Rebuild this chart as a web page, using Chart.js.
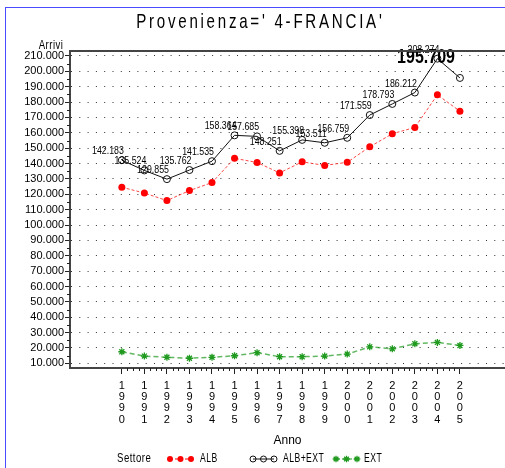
<!DOCTYPE html>
<html>
<head>
<meta charset="utf-8">
<script src="https://cdn.jsdelivr.net/npm/chart.js@4.4.1/dist/chart.umd.min.js"></script>
<style>
  html, body { margin: 0; padding: 0; background: #fff; }
  #wrap { position: relative; width: 505px; height: 468px; overflow: hidden; }
  #frame { position: absolute; left: 5px; top: 7px; right: -2px; bottom: -2px;
           border-left: 1px solid #4a4aff; border-top: 1px solid #4a4aff; pointer-events: none; }
</style>
</head>
<body>
<div id="wrap">
  <canvas id="chart" width="505" height="468"></canvas>
  <div id="frame"></div>
</div>
<script>
// chart data
const titleText = "Provenienza=' 4-FRANCIA'";
const yTitle = 'Arrivi';
const xTitle = 'Anno';
const legendTitle = 'Settore';
const years = [1990, 1991, 1992, 1993, 1994, 1995, 1996, 1997, 1998, 1999, 2000, 2001, 2002, 2003, 2004, 2005];
const alb = [124600, 120800, 115900, 122400, 127600, 143400, 140700, 133900, 141100, 138800, 140800, 150900, 159400, 163500, 184700, 174100];
const albExt = [142183, 135524, 129855, 135762, 141535, 158364, 157685, 148251, 155398, 153511, 156759, 171559, 178793, 186212, 208274, 195709];
const ext = [17500, 14700, 13900, 13300, 13900, 14900, 16900, 14300, 14300, 14700, 16000, 20700, 19400, 22700, 23600, 21600];
const seriesNames = ['ALB', 'ALB+EXT', 'EXT'];
const yFirstTick = 10000, yLastTick = 210000, yStep = 10000;

const FONT = '"Liberation Sans", Arial, sans-serif';
const RED = '#ff0000', BLACK = '#111111', GREEN = '#1f9a1f';

function fmt(v) {
    const k = Math.floor(v / 1000);
    const r = Math.round(v % 1000);
    return k + '.' + String(r).padStart(3, '0');
}

// text squeezed horizontally, to look like the narrow SAS font
function narrowText(ctx, text, x, y, font, align, sx, spacing) {
    ctx.save();
    ctx.font = font;
    ctx.letterSpacing = (spacing || 0) + 'px';
    ctx.textBaseline = 'middle';
    ctx.textAlign = 'left';
    const w = ctx.measureText(text).width - (spacing || 0);
    let left = x;
    if (align === 'center') left = x - w * sx / 2;
    if (align === 'right') left = x - w * sx;
    ctx.translate(left, y);
    ctx.scale(sx, 1);
    ctx.fillText(text, 0, 0);
    ctx.restore();
}

function drawMarker(ctx, style, color, x, y) {
    ctx.save();
    ctx.strokeStyle = color;
    ctx.fillStyle = color;
    ctx.lineWidth = 1;
    ctx.beginPath();
    if (style === 'dot') {
        ctx.arc(x, y, 3, 0, Math.PI * 2);
        ctx.fill();
    } else if (style === 'ring') {
        ctx.arc(x, y, 3, 0, Math.PI * 2);
        ctx.stroke();
    } else {
        ctx.lineWidth = 1.3;
        for (let i = 0; i < 4; i++) {
            const a = i * Math.PI / 4;
            ctx.moveTo(x - 3.3 * Math.cos(a), y - 3.3 * Math.sin(a));
            ctx.lineTo(x + 3.3 * Math.cos(a), y + 3.3 * Math.sin(a));
        }
        ctx.stroke();
    }
    ctx.restore();
}

const extras = {
    id: 'extras',
    afterDatasetsDraw(chart) {
        const ctx = chart.ctx;
        const meta = chart.getDatasetMeta(1);
        ctx.save();
        ctx.fillStyle = '#000';
        meta.data.forEach((pt, i) => {
            if (i === meta.data.length - 1) {
                narrowText(ctx, fmt(albExt[i]), pt.x - 5, pt.y - 20, 'bold 20px ' + FONT, 'right', 0.8, 0);
            } else {
                narrowText(ctx, fmt(albExt[i]), pt.x + 2, pt.y - 9, '11px ' + FONT, 'right', 0.8, 0);
            }
        });
        ctx.restore();
    },
    afterDraw(chart) {
        const {ctx, chartArea: a, scales: {x, y}} = chart;
        ctx.save();
        // top frame line
        ctx.strokeStyle = '#444';
        ctx.lineWidth = 2;
        ctx.beginPath();
        ctx.moveTo(a.left, a.top);
        ctx.lineTo(a.right, a.top);
        ctx.stroke();

        // minor ticks
        ctx.strokeStyle = '#222';
        ctx.lineWidth = 1;
        ctx.beginPath();
        for (let i = 0; i < years.length - 1; i++) {
            for (let q = 1; q < 4; q++) {
                const px = Math.round(x.getPixelForValue(years[i] + q / 4)) + 0.5;
                ctx.moveTo(px, a.bottom);
                ctx.lineTo(px, a.bottom + 3);
            }
        }
        for (let v = yFirstTick + yStep / 2; v < yLastTick; v += yStep) {
            const py = Math.round(y.getPixelForValue(v)) + 0.5;
            ctx.moveTo(a.left, py);
            ctx.lineTo(a.left - 3, py);
        }
        ctx.stroke();

        ctx.fillStyle = '#000';
        // title
        narrowText(ctx, titleText, 259, 22, '21px ' + FONT, 'center', 0.72, 3.8);
        // y axis title
        narrowText(ctx, yTitle, 63, 46, '12px ' + FONT, 'right', 0.8, 0.6);

        // legend
        const ly = 459;
        narrowText(ctx, legendTitle, 117, ly, '12px ' + FONT, 'left', 0.8, 0.6);
        const items = [
            {name: seriesNames[0], color: RED, style: 'dot', x0: 170, tx: 200, dash: [3, 2]},
            {name: seriesNames[1], color: BLACK, style: 'ring', x0: 253, tx: 283, dash: []},
            {name: seriesNames[2], color: GREEN, style: 'star', x0: 336, tx: 364, dash: [4, 2]}
        ];
        items.forEach(it => {
            ctx.save();
            ctx.strokeStyle = it.color;
            ctx.lineWidth = 1;
            ctx.setLineDash(it.dash);
            ctx.beginPath();
            ctx.moveTo(it.x0, ly);
            ctx.lineTo(it.x0 + 21, ly);
            ctx.stroke();
            ctx.restore();
            for (let k = 0; k < 3; k++) drawMarker(ctx, it.style, it.color, it.x0 + k * 10.5, ly);
            ctx.fillStyle = '#000';
            narrowText(ctx, it.name, it.tx, ly, '12px ' + FONT, 'left', 0.72, 0.6);
        });
        ctx.restore();
    }
};

new Chart(document.getElementById('chart'), {
    type: 'line',
    data: {
        datasets: [
            {
                label: seriesNames[0],
                data: years.map((yr, i) => ({x: yr, y: alb[i]})),
                borderColor: 'rgba(255,40,40,0.85)',
                borderWidth: 1,
                borderDash: [3, 2],
                pointStyle: 'circle',
                pointRadius: 3.5,
                pointBackgroundColor: RED,
                pointBorderColor: RED,
                pointBorderWidth: 0,
                tension: 0
            },
            {
                label: seriesNames[1],
                data: years.map((yr, i) => ({x: yr, y: albExt[i]})),
                borderColor: BLACK,
                borderWidth: 1,
                pointStyle: 'circle',
                pointRadius: 3.5,
                pointBackgroundColor: 'rgba(0,0,0,0)',
                pointBorderColor: BLACK,
                pointBorderWidth: 1,
                tension: 0
            },
            {
                label: seriesNames[2],
                data: years.map((yr, i) => ({x: yr, y: ext[i]})),
                borderColor: 'rgba(31,154,31,0.7)',
                borderWidth: 1.5,
                borderDash: [5, 3],
                pointStyle: 'star',
                pointRadius: 3.5,
                pointBackgroundColor: GREEN,
                pointBorderColor: GREEN,
                pointBorderWidth: 1.3,
                tension: 0
            }
        ]
    },
    options: {
        responsive: false,
        animation: false,
        events: [],
        layout: {autoPadding: false, padding: {top: 51, right: 0, bottom: 20, left: 0}},
        plugins: {
            legend: {display: false},
            title: {display: false},
            tooltip: {enabled: false}
        },
        scales: {
            x: {
                type: 'linear',
                min: 1987.7,
                max: 2007.0,
                afterFit: s => { s.height = 80; },
                afterBuildTicks: s => { s.ticks = years.map(v => ({value: v})); },
                grid: {drawOnChartArea: false, drawTicks: true, tickLength: 6, color: '#222'},
                border: {display: true, color: '#444', width: 2},
                ticks: {
                    autoSkip: false,
                    maxRotation: 0,
                    padding: 6,
                    color: '#000',
                    font: {family: FONT, size: 11, lineHeight: 1.03},
                    callback: v => String(v).split('')
                },
                title: {display: true, text: xTitle, color: '#000', font: {family: FONT, size: 12}, padding: {top: 0, bottom: 0}}
            },
            y: {
                min: 6940,
                max: 213250,
                afterFit: s => { s.width = 70; },
                afterBuildTicks: s => {
                    const t = [];
                    for (let v = yFirstTick; v <= yLastTick; v += yStep) t.push({value: v});
                    s.ticks = t;
                },
                grid: {color: '#333', lineWidth: 1, drawTicks: true, tickLength: 5, tickColor: '#222'},
                border: {display: true, color: '#444', width: 2, dash: [1, 7.3]},
                ticks: {
                    autoSkip: false,
                    padding: 1,
                    color: '#000',
                    font: {family: FONT, size: 11},
                    callback: v => fmt(v)
                }
            }
        }
    },
    plugins: [extras]
});
</script>
</body>
</html>
